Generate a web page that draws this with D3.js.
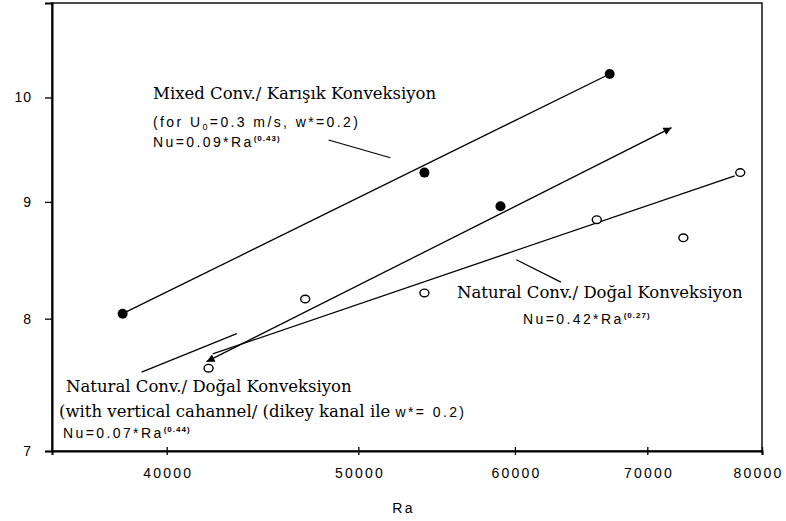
<!DOCTYPE html>
<html>
<head>
<meta charset="utf-8">
<script src="https://cdn.jsdelivr.net/npm/d3@7"></script>
<style>
  body { margin: 0; background: #fff; }
  svg { display: block; }
  .serif { font-family: "DejaVu Serif", serif; font-size: 16.5px; }
  .sans { font-family: "Liberation Sans", Arial, sans-serif; font-size: 14px; letter-spacing: 2.4px; }
</style>
</head>
<body>
<div id="chart"></div>
<script>
// measured points, filled circles (mixed convection)
const mixedRa = [38000, 54000, 67000];
const mixedNu = [8.04, 9.27, 10.24];

// single filled point on the channel line
const channelRa = [59000];
const channelNu = [8.96];

// open circles (natural convection)
const naturalRa = [42000, 47000, 54000, 66000, 73000, 78000];
const naturalNu = [7.61, 8.16, 8.21, 8.84, 8.68, 9.27];

// fitted lines, read at their two ends
const mixedFitRa = [38000, 67000];
const mixedFitNu = [8.04, 10.24];
const channelFitRa = [41900, 72000];
const channelFitNu = [7.66, 9.70];
const naturalFitRa = [42200, 77500];
const naturalFitNu = [7.72, 9.24];

// leader lines from the labels to the curves
const leaderRa = [[48300, 51900], [60100, 63300], [38850, 43400]];
const leaderNu = [[9.58, 9.41], [8.49, 8.30], [7.58, 7.88]];

const xTicks = [40000, 50000, 60000, 70000, 80000];
const yTicks = [7, 8, 9, 10];

const width = 786, height = 521;
const margin = { top: 3, right: 24, bottom: 70, left: 52 };

const svg = d3.select('#chart')
    .append('svg')
    .attr('width', width)
    .attr('height', height);

svg.append('rect').attr('width', width).attr('height', height).attr('fill', '#fff');

const x = d3.scaleLog()
    .domain([35000, 80000])
    .range([margin.left, width - margin.right]);

const y = d3.scaleLog()
    .domain([7, 11])
    .range([height - margin.bottom, margin.top]);

// arrow head for the channel line
svg.append('defs').append('marker')
    .attr('id', 'arrow')
    .attr('viewBox', '0 0 10 10')
    .attr('refX', 10)
    .attr('refY', 5)
    .attr('markerWidth', 11)
    .attr('markerHeight', 8)
    .attr('markerUnits', 'userSpaceOnUse')
    .attr('orient', 'auto-start-reverse')
    .append('path')
    .attr('d', 'M0,0 L10,5 L0,10 Z')
    .attr('fill', '#000');

// frame
svg.append('rect')
    .attr('x', margin.left)
    .attr('y', margin.top)
    .attr('width', width - margin.left - margin.right)
    .attr('height', height - margin.top - margin.bottom)
    .attr('fill', 'none')
    .attr('stroke', '#111')
    .attr('stroke-width', 1.5);

// axes
const xAxis = svg.append('g')
    .attr('transform', `translate(0, ${height - margin.bottom})`)
    .call(d3.axisBottom(x).tickValues(xTicks).tickFormat(d3.format('d')).tickSize(4).tickPadding(13));
xAxis.select('.domain').attr('stroke-width', 2);
xAxis.selectAll('.tick line').attr('y1', -4).attr('stroke-width', 1.3);
xAxis.selectAll('.tick text')
    .attr('font-family', '"Liberation Sans", Arial, sans-serif')
    .attr('font-size', 14)
    .attr('letter-spacing', 2.2)
    .attr('dx', (d, i) => i === xTicks.length - 1 ? -4 : 1.1)
    .attr('fill', '#000');

const yAxis = svg.append('g')
    .attr('transform', `translate(${margin.left}, 0)`)
    .call(d3.axisLeft(y).tickValues(yTicks).tickFormat(d3.format('d')).tickSize(7).tickPadding(13));
yAxis.select('.domain').attr('stroke-width', 2);
yAxis.selectAll('.tick line').attr('stroke-width', 1.3);
yAxis.selectAll('.tick text')
    .attr('font-family', '"Liberation Sans", Arial, sans-serif')
    .attr('font-size', 14)
    .attr('letter-spacing', 1)
    .attr('fill', '#000');

svg.append('text')
    .attr('class', 'sans')
    .attr('x', x(52700))
    .attr('y', 513)
    .attr('text-anchor', 'middle')
    .attr('letter-spacing', 3)
    .attr('font-size', 15)
    .text('Ra');

// fitted lines
const fitLine = (ra, nu) => d3.line()(ra.map((r, i) => [x(r), y(nu[i])]));

svg.append('path')
    .attr('d', fitLine(mixedFitRa, mixedFitNu))
    .attr('stroke', '#000').attr('stroke-width', 1.3).attr('fill', 'none');

svg.append('path')
    .attr('d', fitLine(naturalFitRa, naturalFitNu))
    .attr('stroke', '#000').attr('stroke-width', 1.3).attr('fill', 'none');

svg.append('path')
    .attr('d', fitLine(channelFitRa, channelFitNu))
    .attr('stroke', '#000').attr('stroke-width', 1.3).attr('fill', 'none')
    .attr('marker-start', 'url(#arrow)')
    .attr('marker-end', 'url(#arrow)');

leaderRa.forEach((ra, i) => {
    svg.append('path')
        .attr('d', fitLine(ra, leaderNu[i]))
        .attr('stroke', '#000').attr('stroke-width', 1.2).attr('fill', 'none');
});

// points
svg.append('g').selectAll('circle')
    .data(mixedRa.map((r, i) => [r, mixedNu[i]]).concat(channelRa.map((r, i) => [r, channelNu[i]])))
    .enter()
    .append('circle')
    .attr('cx', d => x(d[0]))
    .attr('cy', d => y(d[1]))
    .attr('r', 5)
    .attr('fill', '#000');

svg.append('g').selectAll('ellipse')
    .data(naturalRa.map((r, i) => [r, naturalNu[i]]))
    .enter()
    .append('ellipse')
    .attr('cx', d => x(d[0]))
    .attr('cy', d => y(d[1]))
    .attr('rx', 4.5)
    .attr('ry', 3.8)
    .attr('fill', '#fff')
    .attr('stroke', '#000')
    .attr('stroke-width', 1.4);

// labels
function formula(xp, yp, base, power) {
    const t = svg.append('text').attr('class', 'sans').attr('x', xp).attr('y', yp);
    t.append('tspan').text(base);
    t.append('tspan').attr('dy', -6).attr('font-size', 8).attr('font-weight', 'bold').attr('letter-spacing', 1).text(power);
}

svg.append('text').attr('class', 'serif').attr('x', 153).attr('y', 99)
    .text('Mixed Conv./ Karışık Konveksiyon');

const t2 = svg.append('text').attr('class', 'sans').attr('x', 153).attr('y', 127);
t2.append('tspan').text('(for U');
t2.append('tspan').attr('dy', 3).attr('font-size', 9).text('0');
t2.append('tspan').attr('dy', -3).text('=0.3 m/s, w*=0.2)');

formula(153, 147, 'Nu=0.09*Ra', '(0.43)');

svg.append('text').attr('class', 'serif').attr('x', 457).attr('y', 298)
    .text('Natural Conv./ Doğal Konveksiyon');
formula(523, 324, 'Nu=0.42*Ra', '(0.27)');

svg.append('text').attr('class', 'serif').attr('x', 66).attr('y', 392)
    .text('Natural Conv./ Doğal Konveksiyon');
const t7 = svg.append('text').attr('class', 'serif').attr('x', 59).attr('y', 417);
t7.append('tspan').text('(with vertical cahannel/ (dikey kanal ile ');
t7.append('tspan').attr('class', 'sans').attr('letter-spacing', 1.6).text('w*= 0.2)');
formula(63, 438, 'Nu=0.07*Ra', '(0.44)');
</script>
</body>
</html>
